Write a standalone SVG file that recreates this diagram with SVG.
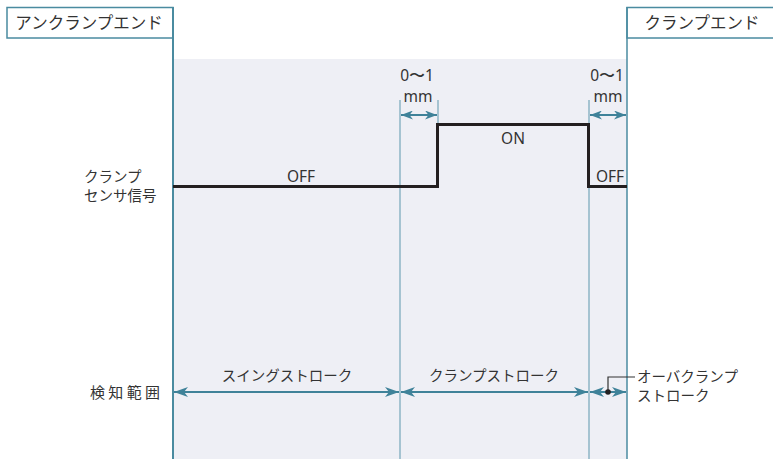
<svg xmlns="http://www.w3.org/2000/svg" width="773" height="459" viewBox="0 0 773 459">
<defs>
<style>
.jp{font-family:"Noto Sans CJK JP","Noto Sans",sans-serif;fill:#333;}
.lt{font-family:"Noto Sans","Open Sans",sans-serif;fill:#333;font-size:15.5px;}
.frame{fill:#fff;stroke:#4a8ba0;stroke-width:1.5;}
.guide{stroke:#8db5c5;stroke-width:1.5;fill:none;}
.dim{stroke:#3f8299;stroke-width:2;fill:none;marker-start:url(#ah);marker-end:url(#ah);}
.dims{stroke:#3f8299;stroke-width:2;fill:none;marker-start:url(#ahs);marker-end:url(#ahs);}
.sig{stroke:#231f20;stroke-width:3;fill:none;stroke-linejoin:miter;}
</style>
<marker id="ah" markerUnits="userSpaceOnUse" markerWidth="15" markerHeight="10" refX="14" refY="5" orient="auto-start-reverse" viewBox="0 0 15 10">
<path d="M0,0 L14,5 L0,10 L4,5 Z" fill="#3f8299"/>
</marker>
<marker id="ahs" markerUnits="userSpaceOnUse" markerWidth="13" markerHeight="9" refX="12" refY="4.5" orient="auto-start-reverse" viewBox="0 0 13 9">
<path d="M0,0 L12,4.5 L0,9 L3.5,4.5 Z" fill="#3f8299"/>
</marker>
</defs>
<rect x="0" y="0" width="773" height="459" fill="#fff"/>
<rect x="174" y="59" width="453" height="400" fill="#eeeff5"/>

<g id="unclamp-end">
<rect class="frame" x="7" y="7.5" width="166" height="30.5"/>
<text class="jp" x="89" y="29" font-size="16.5" text-anchor="middle">アンクランプエンド</text>
</g>
<g id="clamp-end">
<rect class="frame" x="627" y="7.5" width="150" height="30.5"/>
<text class="jp" x="702" y="29" font-size="16.5" text-anchor="middle">クランプエンド</text>
</g>

<g id="connectors">
<line x1="173" y1="7" x2="173" y2="459" stroke="#4a8ba0" stroke-width="2"/>
<line x1="627" y1="7" x2="627" y2="459" stroke="#4a8ba0" stroke-width="1.5"/>
<line class="guide" x1="400" y1="100" x2="400" y2="459"/>
<line class="guide" x1="438" y1="100" x2="438" y2="124"/>
<line class="guide" x1="589" y1="100" x2="589" y2="459"/>
<line class="dims" x1="401" y1="115" x2="437" y2="115"/>
<line class="dims" x1="590" y1="115" x2="626" y2="115"/>
<line class="dim" x1="174" y1="392" x2="399" y2="392"/>
<line class="dim" x1="401" y1="392" x2="588" y2="392"/>
<line class="dim" x1="590" y1="392" x2="626" y2="392"/>
<polyline points="608,392 608,377 635,377" fill="none" stroke="#333" stroke-width="1.2"/>
<circle cx="608" cy="392" r="2.8" fill="#231f20"/>
</g>

<g id="signal">
<polyline class="sig" points="173,186.5 437.5,186.5 437.5,124.5 588.5,124.5 588.5,186.5 627,186.5"/>
<text class="lt" x="301" y="182" text-anchor="middle">OFF</text>
<text class="lt" x="513" y="144" text-anchor="middle">ON</text>
<text class="lt" x="610" y="182" text-anchor="middle">OFF</text>
</g>

<g id="gap-left">
<text class="lt" x="417" y="81" font-size="15" text-anchor="middle">0〜1</text>
<text class="lt" x="418" y="102" text-anchor="middle">mm</text>
</g>
<g id="gap-right">
<text class="lt" x="607" y="81" font-size="15" text-anchor="middle">0〜1</text>
<text class="lt" x="608" y="102" text-anchor="middle">mm</text>
</g>

<g id="sensor-label">
<text class="jp" x="84" y="182" font-size="14.5">クランプ</text>
<text class="jp" x="84" y="201" font-size="14.5">センサ信号</text>
</g>
<g id="range-label">
<text class="jp" x="90" y="398" font-size="15" textLength="70">検知範囲</text>
</g>
<g id="swing-stroke">
<text class="jp" x="287" y="381" font-size="14.5" text-anchor="middle">スイングストローク</text>
</g>
<g id="clamp-stroke">
<text class="jp" x="494" y="381" font-size="14.5" text-anchor="middle">クランプストローク</text>
</g>
<g id="over-clamp-stroke">
<text class="jp" x="637" y="382" font-size="14.5">オーバクランプ</text>
<text class="jp" x="637" y="401" font-size="14.5">ストローク</text>
</g>
</svg>
